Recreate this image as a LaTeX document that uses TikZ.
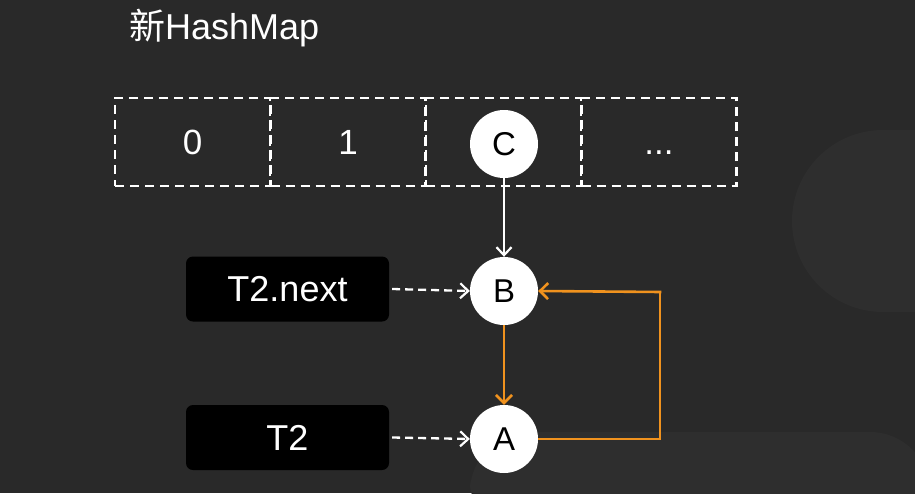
\documentclass[tikz,border=0pt]{standalone}
\usepackage{fontspec}
\setmainfont{Liberation Sans}
\newfontfamily\cjk{Noto Sans CJK SC}
\usetikzlibrary{arrows.meta}
\definecolor{bgc}{HTML}{292929}
\definecolor{bgl}{HTML}{2E2E2E}
\definecolor{orng}{RGB}{240,146,30}
\tikzset{
  cell/.style={draw=white, line width=2.4pt, dash pattern=on 9pt off 6pt, minimum width=155pt, minimum height=88pt, inner sep=0pt, text height=25pt, text depth=0pt, text=white, font=\fontsize{35}{38}\selectfont},
  ball/.style={circle, fill=white, minimum size=68pt, inner sep=0pt, text=black, font=\fontsize{33}{36}\selectfont},
  tag/.style={rectangle, rounded corners=7pt, fill=black, minimum width=203pt, minimum height=65pt, inner sep=0pt, text=white, font=\fontsize{36}{40}\selectfont},
  ptr/.style={draw=white, line width=2.3pt, dash pattern=on 8pt off 5pt, -{Straight Barb[length=8pt,width=15pt,line width=2.2pt]}},
  link/.style={draw=white, line width=2pt, -{Straight Barb[length=8pt,width=15pt,line width=2.2pt]}},
  olink/.style={draw=orng, line width=2.6pt, -{Straight Barb[length=8pt,width=16pt,line width=2.6pt]}},
  oline/.style={draw=orng, line width=2.6pt}
}
\begin{document}
\begin{tikzpicture}[x=1pt,y=-1pt]
\fill[bgc] (0,0) rectangle (915,493);
\useasboundingbox (0,0) rectangle (915,493);
% faint background shapes
\fill[bgl] (930,130) -- (883,130) arc[start angle=270,end angle=90,radius=91] -- (930,312) -- cycle;
\fill[bgl, rounded corners=60pt] (470,540) -- (470,432) -- (930,432) -- (930,540) -- cycle;
% title
\node[anchor=west, text=white, font=\fontsize{36}{40}\selectfont, inner sep=0pt] (title) at (129,28) {{\cjk 新}HashMap};
% cells
\node[cell] (c0) at (192.5,142) {0};
\node[cell] (c1) at (348,142) {1};
\node[cell] (c2) at (503.5,142) {};
\node[cell] (c3) at (659,142) {...};
% balls
\node[ball] (C) at (504,144) {C};
\node[ball] (B) at (504,291) {B};
\node[ball] (A) at (504,439) {A};
% tags
\node[tag] (tn) at (287.5,289) {T2.next};
\node[tag] (t2) at (287.5,437.5) {T2};
% connectors
\draw[link] (C.south) -- (B.north);
\draw[ptr] (tn.east) ++(3,0) coordinate (tns) -- (B.west);
\draw[ptr] (t2.east) ++(3,0) coordinate (t2s) -- (A.west);
\draw[olink] (B.south) -- (A.north);
\coordinate (turn) at (660,292);
\draw[oline] (A.east) -| (turn);
\draw[olink] ([xshift=1.3pt]turn) -- (B.east);
\end{tikzpicture}
\end{document}
